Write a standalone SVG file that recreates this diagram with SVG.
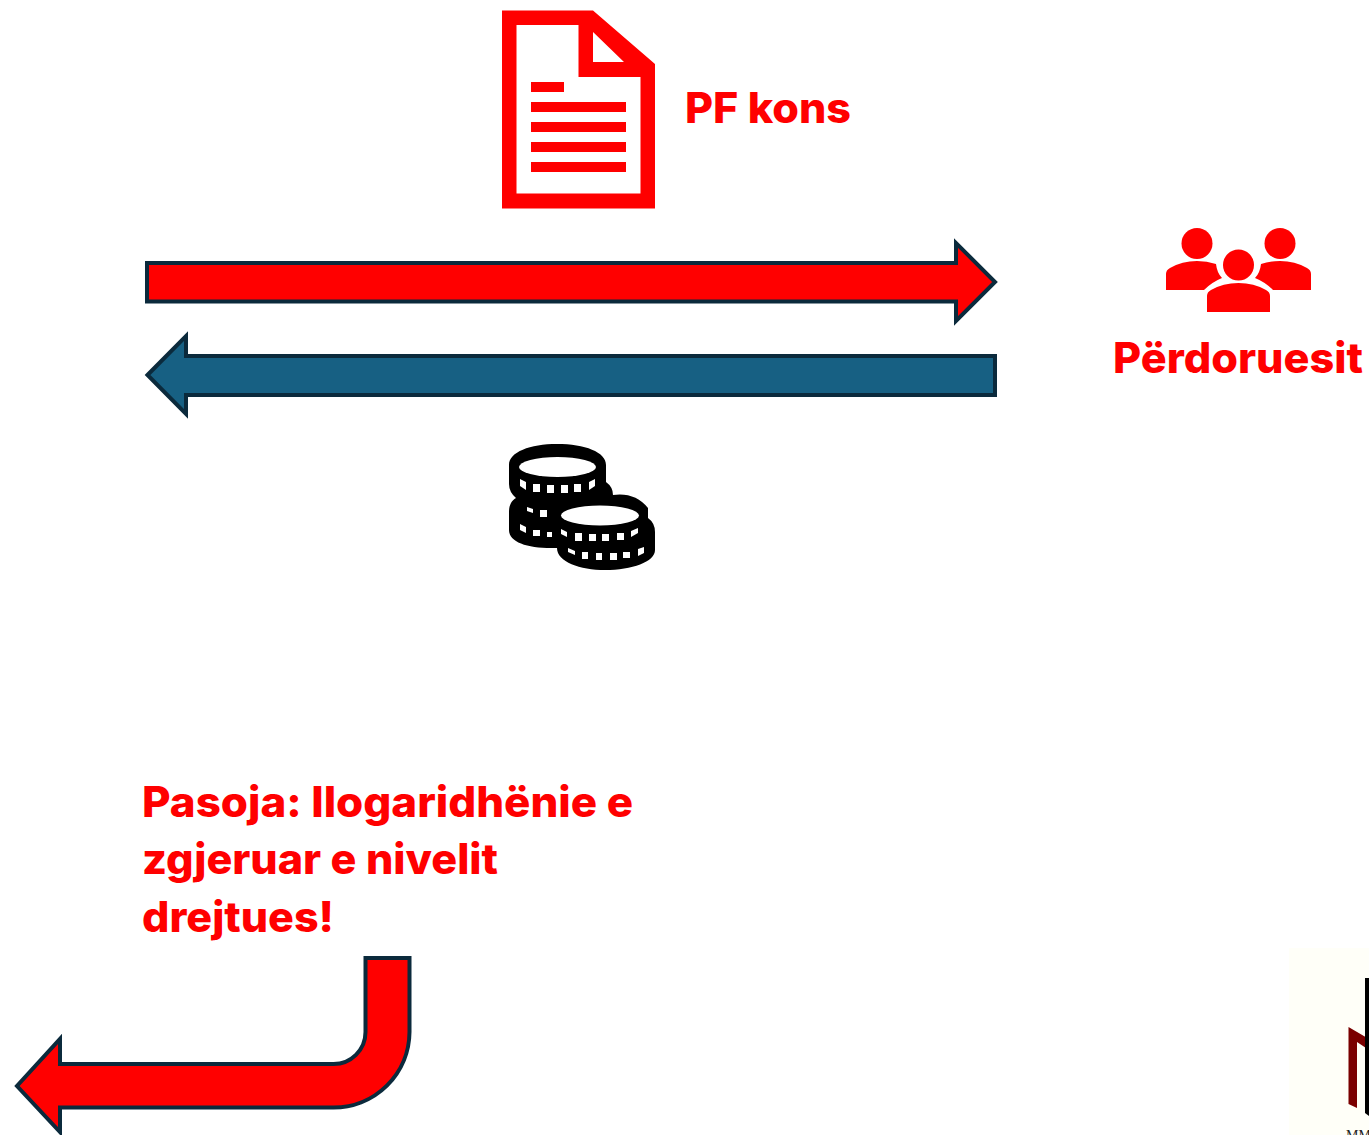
<svg xmlns="http://www.w3.org/2000/svg" width="1369" height="1135" viewBox="0 0 1369 1135">
<style>
.t{font-family:"Inter","Liberation Sans",sans-serif;font-weight:800;fill:#f00}
.a{stroke:#0b2a3c;stroke-width:4;stroke-linejoin:miter}
.r{fill:#f00}
.w{fill:#fff}
</style>
<rect width="1369" height="1135" fill="#fff"/>
<g id="document">
<path class="r" fill-rule="evenodd" d="M502 10.500H593L655 64V208.500H502ZM516.500 25V193.500H640.500V77H578.500V25ZM593 32V62H624Z"/>
<path class="r" d="M531 82h33v10h-33zM531 102h95v10h-95zM531 122h95v10h-95zM531 142h95v10h-95zM531 162h95v10h-95z"/>
<text class="t" x="685" y="123" font-size="42" textLength="166" lengthAdjust="spacingAndGlyphs">PF kons</text>
</g>
<g id="users">
<circle class="r" cx="1197" cy="243.500" r="15.500"/>
<circle class="r" cx="1280" cy="243.500" r="15.500"/>
<circle class="r" cx="1238.500" cy="265" r="15.500"/>
<path class="r" d="M1166 290V274Q1166 270 1170 268Q1182 261 1197 261Q1207 261 1216 264Q1217 273 1222 278Q1212 282 1204 290Z"/>
<path class="r" d="M1311 290V274Q1311 270 1307 268Q1295 261 1280 261Q1270 261 1261 264Q1260 273 1255 278Q1265 282 1273 290Z"/>
<path class="r" d="M1207 312V296Q1207 292 1211 290Q1223 283 1238.500 283Q1254 283 1266 290Q1270 292 1270 296V312Z"/>
<text class="t" x="1113" y="373" font-size="42" textLength="250" lengthAdjust="spacingAndGlyphs">Përdoruesit</text>
</g>
<g id="consequence">
<text class="t" x="142" y="817" font-size="42" textLength="491" lengthAdjust="spacingAndGlyphs">Pasoja: llogaridhënie e</text>
<text class="t" x="142" y="874" font-size="42" textLength="356" lengthAdjust="spacingAndGlyphs">zgjeruar e nivelit</text>
<text class="t" x="142" y="932" font-size="42" textLength="192" lengthAdjust="spacingAndGlyphs">drejtues!</text>
</g>
<g id="connectors">
<path id="arrow-forward" class="a r" d="M147 263H956V243L995 282L956 321V301.500H147Z"/>
<path id="arrow-back" class="a" fill="#176083" d="M147.500 375L186 336V356H995V395H186V414Z"/>
<path id="arrow-bent" class="a r" d="M365.500 958H409.500V1032A76 76 0 0 1 333 1107.500H60V1132L17 1086L60 1039V1064H333A32 32 0 0 0 365.500 1032Z"/>
</g>
<g id="coins">
<path d="M509 465C509 452 530 444 557 444C585 444 606 452 606 465V482Q613 487 613 495Q635 492 648 508V518Q655 523 655 532V550C655 562 632 570 605 570C580 570 557 562 557 548C530 549 509 543 509 530V512C509 506 511 501 516 498Q509 492 509 484Z"/>
<ellipse class="w" cx="557.500" cy="467" rx="38.500" ry="10"/>
<ellipse class="w" cx="600" cy="515.500" rx="39" ry="10"/>
<path class="w" d="M520 479L526 482V490L520 486ZM533 484H540V492H533ZM547 485H554V493H547ZM561 485H568V493H561ZM574 484H581V492H574ZM589 482L595 479V486L589 490Z"/>
<path class="w" d="M527 507L533 509V513L527 511ZM540 510H547V517H540ZM520 524L526 527V533L520 530ZM533 530H540V536H533ZM547 532H552V537H547Z"/>
<path class="w" d="M561 529L567 532V537L561 534ZM575 533H582V541H575ZM589 534H596V541H589ZM602 534H609V541H602ZM617 533H624V540H617ZM631 531L638 528V533L631 537Z"/>
<path class="w" d="M568 548L575 551V555L568 552ZM582 552H588V559H582ZM596 553H602V560H596ZM610 553H617V560H610ZM623 552H630V558H623ZM638 549L644 547V553L638 556Z"/>
</g>
<g id="logo">
<rect x="1289" y="948" width="80" height="187" fill="#fffff8"/>
<path fill="#7a0000" d="M1348.500 1027L1369 1039V1050L1357 1042V1108L1348.500 1104Z"/>
<path fill="#000" d="M1365 978H1369V1116L1365 1113Z"/>
<text x="1346" y="1140" font-family="Liberation Serif, serif" font-size="14" fill="#222">MM</text>
</g>
</svg>
